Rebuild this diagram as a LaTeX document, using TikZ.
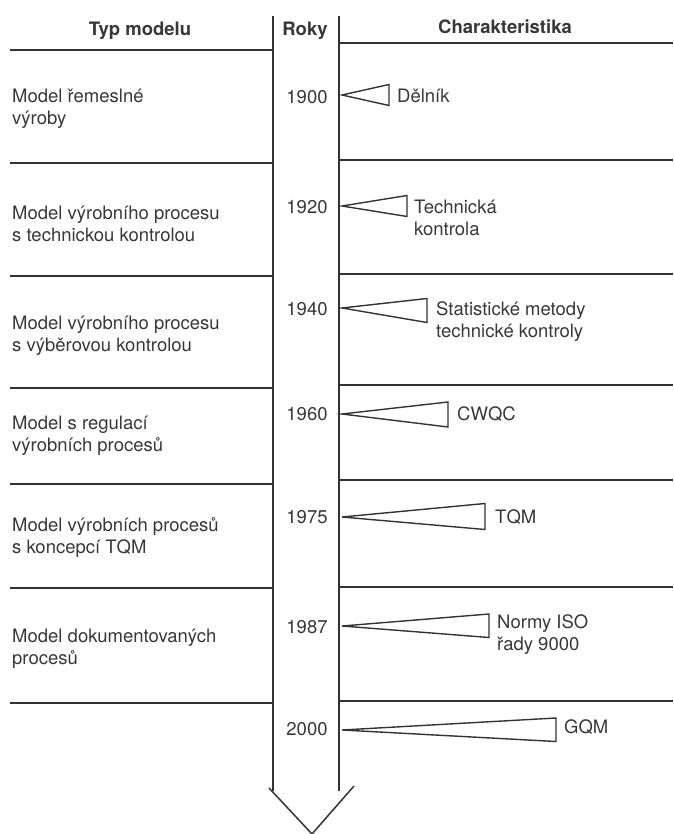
\documentclass[tikz,border=0pt]{standalone}
\usepackage{fontspec}
\setmainfont{TeX Gyre Heros}
\begin{document}
\begin{tikzpicture}[x=1pt,y=-1pt,
  ink/.style={draw=black!80, line width=1.5pt},
  txt/.style={text=black!78, font=\fontsize{18.5}{22}\selectfont, inner sep=0pt, align=left},
  head/.style={text=black!78, font=\fontsize{18.5}{22}\selectfont\bfseries, inner sep=0pt},
  year/.style={txt, anchor=center},
  wedge/.style={draw=black!80, line width=1.4pt, line join=miter}]
\useasboundingbox (0,0) rectangle (673,834);
\fill[white] (0,0) rectangle (673,834);
% headers
\node[head] (h1) at (140,31) {Typ modelu};
\node[head] (h2) at (305,31) {Roky};
\node[head] (h3) at (505,27) {Charakteristika};
% timeline arrow
\coordinate (lt) at (273,16);
\coordinate (rt) at (339,16);
\coordinate (lb) at (273,791);
\coordinate (rb) at (339,791);
\coordinate (vl) at (269,788);
\coordinate (vt) at (312,834);
\coordinate (vr) at (354,786);
\draw[ink] (lt) -- (lb);
\draw[ink] (rt) -- (rb);
\draw[ink, line join=miter] (vl) -- (vt) -- (vr);
% left rule lines
\foreach \y in {50,163,276,388,484,588,703}{
  \draw[ink] (10,\y) -- (273,\y);
}
% right rule lines
\foreach \y in {43,160,274,385,480,587,701}{
  \draw[ink] (339,\y) -- (673,\y);
}
% model types
\node[txt, anchor=west] (m1) at (12,108.5) {Model řemeslné\\výroby};
\node[txt, anchor=west] (m2) at (12,224) {Model výrobního procesu\\s technickou kontrolou};
\node[txt, anchor=west] (m3) at (12,335.5) {Model výrobního procesu\\s výběrovou kontrolou};
\node[txt, anchor=west] (m4) at (12,436) {Model s regulací\\výrobních procesů};
\node[txt, anchor=west] (m5) at (12,538) {Model výrobních procesů\\s koncepcí TQM};
\node[txt, anchor=west] (m6) at (12,648.5) {Model dokumentovaných\\procesů};
% years
\node[year] (y1) at (307,97) {1900};
\node[year] (y2) at (307,207) {1920};
\node[year] (y3) at (307,309) {1940};
\node[year] (y4) at (307,414) {1960};
\node[year] (y5) at (307,517) {1975};
\node[year] (y6) at (307,627) {1987};
\node[year] (y7) at (307,729) {2000};
% wedges
\draw[wedge] (342,95) -- (389,84.5) -- (389,105.5) -- cycle;
\draw[wedge] (342,206) -- (407,195.5) -- (407,216.5) -- cycle;
\draw[wedge] (342,308) -- (427,298.5) -- (427,322.5) -- cycle;
\draw[wedge] (342,414) -- (448,402) -- (448,427) -- cycle;
\draw[wedge] (342,517) -- (485,503.5) -- (485,529.5) -- cycle;
\draw[wedge] (342,626) -- (489,614) -- (489,637.5) -- cycle;
\draw[wedge] (342,730) -- (556,718) -- (556,741.5) -- cycle;
% characteristics
\node[txt, anchor=west] (c1) at (397,96) {Dělník};
\node[txt, anchor=west] (c2) at (414,218) {Technická\\kontrola};
\node[txt, anchor=west] (c3) at (436,321.5) {Statistické metody\\technické kontroly};
\node[txt, anchor=west] (c4) at (457,414) {CWQC};
\node[txt, anchor=west] (c5) at (495,517) {TQM};
\node[txt, anchor=west] (c6) at (497,635) {Normy ISO\\řady 9000};
\node[txt, anchor=west] (c7) at (564,727) {GQM};
\end{tikzpicture}
\end{document}
